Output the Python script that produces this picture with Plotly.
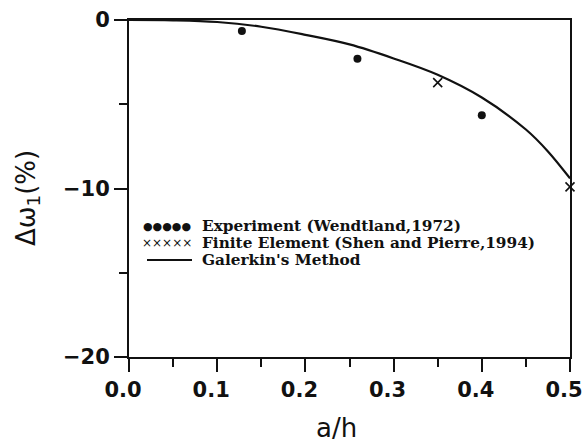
import plotly.graph_objects as go

# Data
exp_x = [0.128, 0.259, 0.40]
exp_y = [-0.65, -2.3, -5.66]
fem_x = [0.35, 0.50]
fem_y = [-3.72, -9.9]
gal_x = [0.0, 0.05, 0.10, 0.15, 0.20, 0.25, 0.30, 0.35, 0.40, 0.45, 0.475, 0.50]
gal_y = [0.0, -0.02, -0.12, -0.40, -0.88, -1.45, -2.28, -3.25, -4.60, -6.50, -7.80, -9.40]

x_ticks = [0.0, 0.1, 0.2, 0.3, 0.4, 0.5]
x_tick_labels = ["0.0", "0.1", "0.2", "0.3", "0.4", "0.5"]
y_ticks = [0, -10, -20]
y_tick_labels = ["0", "\u221210", "\u221220"]

legend_labels = ["Experiment (Wendtland,1972)",
                 "Finite Element (Shen and Pierre,1994)",
                 "Galerkin's Method"]

W, H = 585, 448
L, R, T, B = 129, 570, 20, 357  # plot area in window pixels
PW, PH = R - L, B - T


def px(x):
    return (x - L) / PW


def py(y):
    return 1 - (y - T) / PH


fig = go.Figure()
fig.add_trace(go.Scatter(x=gal_x, y=gal_y, mode="lines",
                         line=dict(color="#111", width=2.2, shape="spline", smoothing=1.0),
                         showlegend=False))
fig.add_trace(go.Scatter(x=exp_x, y=exp_y, mode="markers",
                         marker=dict(symbol="circle", size=8, color="#111"), showlegend=False))
fig.add_trace(go.Scatter(x=fem_x, y=fem_y, mode="markers",
                         marker=dict(symbol="x-thin", size=9, line=dict(color="#111", width=1.6)),
                         showlegend=False, cliponaxis=False))

tick_font = dict(family="DejaVu Sans", size=21, color="#111", weight="bold")
fig.update_xaxes(range=[0, 0.5], tickvals=x_ticks, ticktext=x_tick_labels, ticks="outside",
                 ticklen=13, tickwidth=2, tickcolor="#111", showline=True, linewidth=2, linecolor="#111",
                 mirror=True, showgrid=False, zeroline=False, tickfont=tick_font, ticklabeloverflow="allow",
                 automargin=False, ticklabelshift=-6,
                 minor=dict(dtick=0.05, ticks="outside", ticklen=8, tickwidth=2, tickcolor="#111"))
fig.update_yaxes(range=[-20, 0], tickvals=y_ticks, ticktext=y_tick_labels, ticks="outside",
                 ticklen=13, tickwidth=2, tickcolor="#111", showline=True, linewidth=2, linecolor="#111",
                 mirror=True, showgrid=False, zeroline=False, tickfont=tick_font, ticklabeloverflow="allow",
                 automargin=False,
                 minor=dict(dtick=5, ticks="outside", ticklen=8, tickwidth=1.5, tickcolor="#111"))

leg_font = dict(family="DejaVu Serif", size=15.3, color="#111", weight="bold")
rows_y = [py(226), py(243), py(260)]
annotations = []
for lab, yy in zip(legend_labels, rows_y):
    annotations.append(dict(xref="paper", yref="paper", x=px(201), y=yy, xanchor="left", yanchor="middle",
                            text=lab, showarrow=False, font=leg_font, borderpad=0))
annotations.append(dict(xref="paper", yref="paper", x=px(142), y=rows_y[0], xanchor="left",
                        yanchor="middle", text="\u25cf\u25cf\u25cf\u25cf\u25cf", showarrow=False, borderpad=0,
                        font=dict(family="DejaVu Sans", size=11, color="#111")))
annotations.append(dict(xref="paper", yref="paper", x=px(141), y=rows_y[1], xanchor="left",
                        yanchor="middle", text="\u00d7\u00d7\u00d7\u00d7\u00d7", showarrow=False, borderpad=0,
                        font=dict(family="DejaVu Sans", size=12, color="#111")))
annotations.append(dict(xref="paper", yref="paper", x=px(336), y=py(428),
                        xanchor="center", yanchor="middle", text="a/h", showarrow=False,
                        font=dict(family="DejaVu Sans", size=26, color="#111")))
annotations.append(dict(xref="paper", yref="paper", x=px(27), y=py(198),
                        xanchor="center", yanchor="middle", text="\u0394\u03c9<sub>1</sub>(%)", textangle=-90,
                        showarrow=False, font=dict(family="DejaVu Sans", size=26, color="#111")))

shapes = [dict(type="line", xref="paper", yref="paper", x0=px(147), x1=px(192),
               y0=rows_y[2], y1=rows_y[2], line=dict(color="#111", width=2))]

fig.update_layout(width=W, height=H, margin=dict(l=L, r=W - R, t=T, b=H - B, autoexpand=False),
                  plot_bgcolor="white", paper_bgcolor="white", annotations=annotations, shapes=shapes,
                  showlegend=False)
fig.write_html("out.html", config={"displayModeBar": False},
               post_script="document.body.style.margin='0px';document.body.style.overflow='hidden';")
